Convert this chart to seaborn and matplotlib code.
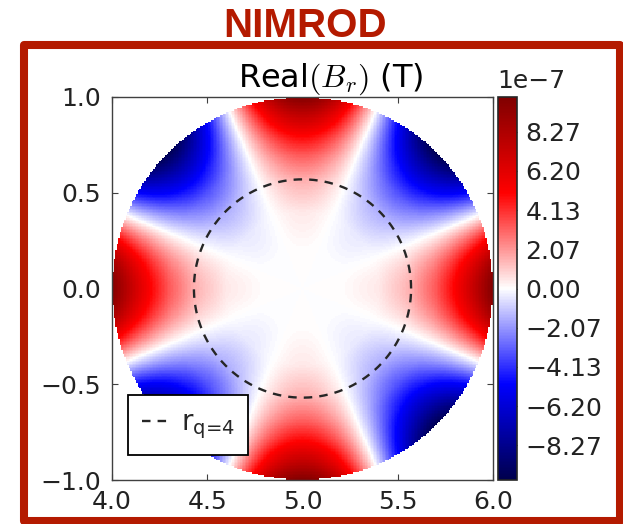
import numpy as np
import pandas as pd
import matplotlib
matplotlib.use("Agg")
import matplotlib.pyplot as plt
import seaborn as sns
from matplotlib.ticker import FuncFormatter
from matplotlib.patches import Rectangle

# ---------------- data ----------------
x_ticks = [4.0, 4.5, 5.0, 5.5, 6.0]          # R (m)
y_ticks = [-1.0, -0.5, 0.0, 0.5, 1.0]        # Z (m)
R0 = 5.0                                      # disk centre
a_minor = 1.0                                 # disk radius
m_mode = 4                                    # poloidal mode number
r_profile = [0.0, 0.2, 0.4, 0.57, 0.7, 0.8, 0.9, 1.0]              # r/a
amp_profile = [0.0, 0.03, 0.45, 1.6, 3.3, 5.1, 7.4, 9.9]           # x1e-7 T
cbar_ticks = [-8.27, -6.20, -4.13, -2.07, 0.0, 2.07, 4.13, 6.20, 8.27]  # x1e-7
vlim = 10.1                                   # colour limit, x1e-7 T
r_q4 = 0.57                                   # q=4 surface radius
scale = 1e-7

# ---------------- field on a grid ----------------
N = 250
xs = 4.0 + (np.arange(N) + 0.5) * 2.0 / N
ys = 1.0 - (np.arange(N) + 0.5) * 2.0 / N
X, Y = np.meshgrid(xs, ys)
rr = np.hypot(X - R0, Y) / a_minor
th = np.arctan2(Y, X - R0)
amp = np.interp(rr, r_profile, amp_profile) * scale
B = amp * np.cos(m_mode * th)
B[rr > 1.0] = np.nan
df = pd.DataFrame(B, index=np.round(ys, 4), columns=np.round(xs, 4))

# ---------------- figure ----------------
sns.set_theme(style="ticks")
plt.rcParams["font.family"] = ["DejaVu Sans"]
plt.rcParams["mathtext.fontset"] = "cm"

W, H = 623, 524
fig = plt.figure(figsize=(W / 100, H / 100), dpi=100)
fig.patch.set_facecolor("white")

ax = fig.add_axes([112 / W, 44 / H, 381 / W, 383 / H])
cax = fig.add_axes([498 / W, 44 / H, 19 / W, 383 / H])

fmt = FuncFormatter(lambda v, p: f"{v / scale:.2f}".replace("-", "\u2212"))
sns.heatmap(df, cmap="seismic", vmin=-vlim * scale, vmax=vlim * scale,
            ax=ax, cbar_ax=cax, xticklabels=False, yticklabels=False,
            cbar_kws={"ticks": [t * scale for t in cbar_ticks], "format": fmt})

# axes ticks mapped onto the heatmap cell index
ax.set_xticks([(x - 4.0) / 2.0 * N for x in x_ticks])
ax.set_xticklabels([f"{x:.1f}" for x in x_ticks], fontsize=18)
ax.set_yticks([(1.0 - y) / 2.0 * N for y in y_ticks])
ax.set_yticklabels([f"{y:.1f}".replace("-", "\u2212") for y in y_ticks],
                   fontsize=18, rotation=0)
ax.set_xlabel("")
ax.set_ylabel("")
for s in ax.spines.values():
    s.set_visible(True)
    s.set_linewidth(1.0)
    s.set_color("0.25")
ax.tick_params(direction="in", length=4, width=0.8, color="0.25",
               top=True, right=True, bottom=True, left=True,
               labelcolor="#222222")
ax.tick_params(axis="x", pad=7)
ax.tick_params(axis="y", pad=8)

# q=4 surface
tt = np.linspace(0, 2 * np.pi, 400)
cx = R0 + r_q4 * np.cos(tt)
cy = r_q4 * np.sin(tt)
ax.plot((cx - 4.0) / 2.0 * N, (1.0 - cy) / 2.0 * N, color="0.15",
        lw=1.7, linestyle=(0, (3.6, 3.0)),
        label=r"r$_\text{q=4}$")
leg = ax.legend(loc="lower left", bbox_to_anchor=(0.042, 0.065),
                borderaxespad=0, fontsize=20, handlelength=0.95,
                handletextpad=0.45, borderpad=0.5, fancybox=False,
                framealpha=1, edgecolor="black")
leg.get_frame().set_linewidth(1.3)
for t in leg.get_texts():
    t.set_math_fontfamily("dejavusans")

# colorbar
cb = ax.collections[0].colorbar
cb.outline.set_visible(True)
cb.outline.set_linewidth(1.2)
cb.outline.set_edgecolor("0.15")
cax.tick_params(direction="in", length=7, width=0.8, right=True, left=False,
                labelsize=18, pad=6, labelcolor="#222222", color="0.15")
cax.text(-0.05, 1.0 + 9 / 383, "1e\u22127", transform=cax.transAxes,
         ha="left", va="baseline", fontsize=18, color="#222222")

# title
ax.text(0.575, 1.0 + 10 / 383, r"Real$(B_r)$ (T)", transform=ax.transAxes,
        ha="center", va="baseline", fontsize=23, color="black")

# red frame and heading
red = "#B41A00"
fig.patches.append(Rectangle((24 / W, 3 / H), 596 / W, 476 / H,
                             transform=fig.transFigure, fill=False,
                             edgecolor=red, linewidth=5.8, joinstyle="round"))
fig.text(305 / W, 1 - 37 / H, "NIMROD", ha="center", va="baseline",
         fontsize=29, color=red, fontweight="bold",
         family=["Liberation Sans", "DejaVu Sans"])

fig.savefig("out.png", dpi=100)
